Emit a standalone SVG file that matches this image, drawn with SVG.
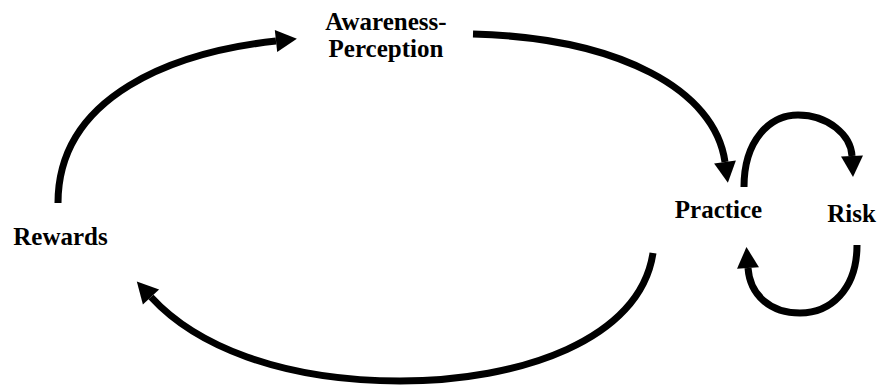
<svg xmlns="http://www.w3.org/2000/svg" width="881" height="387" viewBox="0 0 881 387">
  <style>
    .lbl { font-family: "Liberation Serif", "Times New Roman", serif; font-weight: bold; font-size: 25px; fill: #000; text-anchor: middle; }
    .conn { fill: none; stroke: #000; stroke-width: 7; stroke-linecap: butt; }
  </style>
  <defs>
    <marker id="head" viewBox="0 -11 21 22" refX="0" refY="0" markerUnits="userSpaceOnUse" markerWidth="21" markerHeight="22" orient="auto" overflow="visible">
      <path d="M0,-11 L21,0 L0,11 z" fill="#000"/>
    </marker>
  </defs>
  <rect width="881" height="387" fill="#fff"/>
  <g id="connectors">
    <path class="conn" d="M58,203 C58,95 175,52 276,41" marker-end="url(#head)"/>
    <path class="conn" d="M473,34 C620,38 715,90 725,162" marker-end="url(#head)"/>
    <path class="conn" d="M744,187 C744,140 770,115 798,115 C828,115 851,135 852,156" marker-end="url(#head)"/>
    <path class="conn" d="M857,245 C857,290 830,313 800,313 C770,313 750,295 748,268" marker-end="url(#head)"/>
    <path class="conn" d="M653,253 C640,340 520,381 400,381 C280,381 195,345 151,297" marker-end="url(#head)"/>
  </g>
  <g id="awareness">
    <text class="lbl" x="386" y="30">Awareness-</text>
    <text class="lbl" x="386" y="57">Perception</text>
  </g>
  <g id="practice">
    <text class="lbl" x="718.5" y="218">Practice</text>
  </g>
  <g id="risk">
    <text class="lbl" x="851.5" y="222">Risk</text>
  </g>
  <g id="rewards">
    <text class="lbl" x="60.5" y="245">Rewards</text>
  </g>
</svg>
